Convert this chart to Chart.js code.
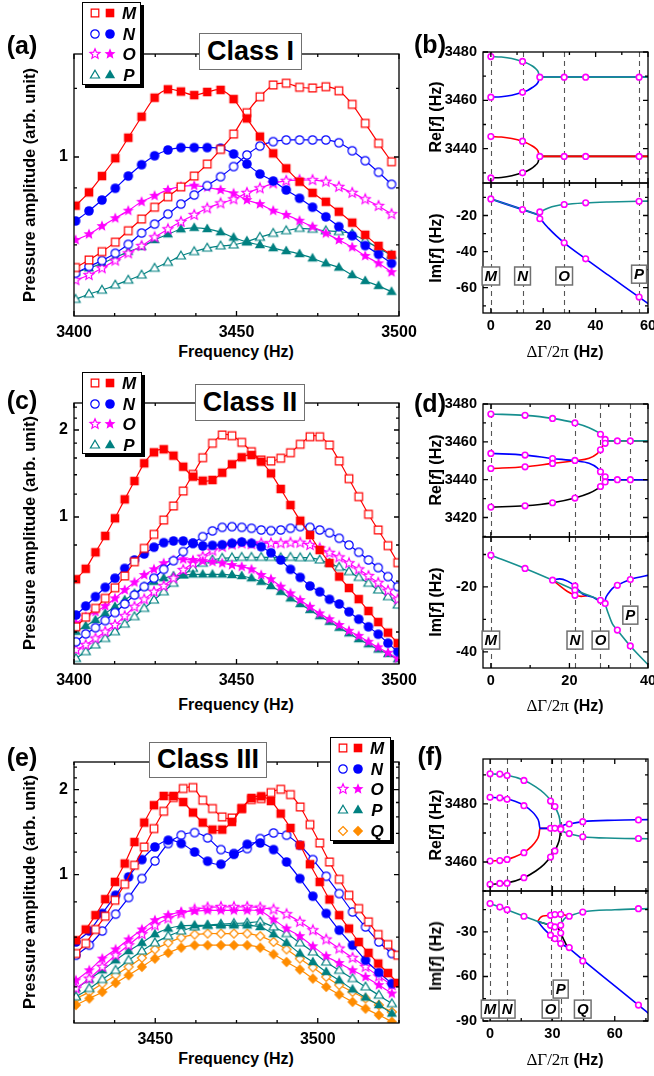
<!DOCTYPE html>
<html><head><meta charset="utf-8">
<script src="https://cdn.jsdelivr.net/npm/chart.js@4.4.1/dist/chart.umd.min.js"></script>
<style>
html,body{margin:0;padding:0;background:#fff}
#fig{position:relative;width:654px;height:1076px;overflow:hidden;background:#fff;font-family:"Liberation Sans",Arial,sans-serif;font-weight:bold;color:#000}
#fig canvas{position:absolute}
.t{position:absolute;white-space:nowrap;transform:translate(-50%,-50%);line-height:1}
.box{position:absolute;background:#fff;border:1.5px solid #707070;box-sizing:border-box;text-align:center;font-size:27px}
.leg{position:absolute;background:#fff;border:1px solid #000;box-shadow:3px 3px 0 #000;box-sizing:border-box}
.leg i{position:absolute;font-size:17px;transform:translate(-50%,-50%);line-height:1}
</style></head><body><div id="fig"></div>
<script>
// ---- (a) Class I spectra, 4 Hz steps
const freqA = [3400.5, 3404.6, 3408.6, 3412.7, 3416.7, 3420.8, 3424.8, 3428.9, 3432.9, 3437.0, 3441.0, 3445.1, 3449.1, 3453.2, 3457.2, 3461.3, 3465.3, 3469.4, 3473.4, 3477.5, 3481.5, 3485.6, 3489.6, 3493.7, 3497.7];
const aMf = [0.788,0.841,0.911,0.994,1.099,1.218,1.337,1.393,1.378,1.354,1.375,1.389,1.328,1.208,1.105,1.018,0.946,0.886,0.839,0.803,0.765,0.725,0.683,0.647,0.619];
const aMo = [0.582,0.604,0.629,0.659,0.697,0.738,0.782,0.823,0.864,0.911,0.966,1.038,1.119,1.242,1.343,1.423,1.435,1.407,1.402,1.411,1.383,1.294,1.179,1.069,0.977];
const aNf = [0.731,0.768,0.810,0.858,0.911,0.963,1.006,1.035,1.047,1.047,1.047,1.044,1.015,0.966,0.920,0.889,0.851,0.817,0.782,0.746,0.711,0.680,0.648,0.621,0.594];
const aNo = [0.566,0.585,0.602,0.624,0.652,0.689,0.720,0.756,0.794,0.830,0.869,0.908,0.954,1.010,1.055,1.078,1.087,1.087,1.087,1.087,1.072,1.031,0.982,0.928,0.875];
const aOf = [0.666,0.685,0.713,0.741,0.769,0.803,0.827,0.851,0.865,0.869,0.862,0.851,0.837,0.810,0.794,0.769,0.753,0.732,0.711,0.688,0.666,0.643,0.616,0.594,0.569];
const aOo = [0.547,0.561,0.580,0.602,0.624,0.647,0.675,0.702,0.728,0.753,0.778,0.797,0.813,0.839,0.858,0.879,0.890,0.893,0.893,0.886,0.864,0.839,0.813,0.787,0.756];
const aPf = [0.568,0.580,0.594,0.611,0.629,0.644,0.666,0.685,0.702,0.707,0.703,0.692,0.674,0.659,0.650,0.640,0.631,0.622,0.609,0.594,0.582,0.561,0.545,0.532,0.517];
const aPo = [0.498,0.511,0.521,0.534,0.547,0.561,0.580,0.597,0.616,0.629,0.640,0.647,0.650,0.661,0.675,0.688,0.697,0.705,0.702,0.697,0.694,0.686,0.664,0.640,0.618];

// ---- (c) Class II spectra, 3 Hz steps
const freqC = [3400.6,3403.6,3406.6,3409.6,3412.6,3415.6,3418.6,3421.6,3424.6,3427.6,3430.6,3433.6,3436.6,3439.6,3442.6,3445.6,3448.6,3451.6,3454.6,3457.6,3460.6,3463.6,3466.6,3469.6,3472.6,3475.6,3478.6,3481.6,3484.6,3487.6,3490.6,3493.6,3496.6,3499.6];
const cMf = [0.609,0.662,0.755,0.860,0.990,1.151,1.332,1.534,1.674,1.715,1.630,1.493,1.379,1.335,1.343,1.423,1.522,1.609,1.638,1.554,1.416,1.250,1.100,0.971,0.866,0.769,0.693,0.622,0.568,0.520,0.473,0.433,0.398,0.366];
const cMo = [0.417,0.450,0.483,0.523,0.569,0.625,0.700,0.779,0.871,0.976,1.092,1.230,1.405,1.604,1.799,1.922,1.911,1.813,1.683,1.575,1.562,1.597,1.669,1.785,1.896,1.896,1.775,1.562,1.357,1.176,1.022,0.902,0.796,0.695];
const cNf = [0.458,0.492,0.530,0.571,0.614,0.664,0.710,0.745,0.786,0.815,0.826,0.826,0.811,0.794,0.798,0.802,0.811,0.819,0.811,0.789,0.752,0.710,0.659,0.618,0.577,0.551,0.519,0.500,0.470,0.443,0.417,0.393,0.366,0.342];
const cNo = [0.370,0.394,0.414,0.438,0.467,0.500,0.537,0.574,0.614,0.659,0.706,0.759,0.811,0.855,0.895,0.921,0.926,0.921,0.914,0.902,0.897,0.902,0.914,0.926,0.921,0.902,0.882,0.844,0.800,0.755,0.710,0.668,0.622,0.574];
const cOf = [0.429,0.452,0.470,0.492,0.523,0.559,0.594,0.630,0.659,0.692,0.710,0.714,0.710,0.704,0.700,0.692,0.682,0.673,0.659,0.630,0.609,0.574,0.544,0.516,0.489,0.464,0.443,0.423,0.404,0.388,0.370,0.354,0.339,0.324];
const cOo = [0.347,0.361,0.380,0.401,0.423,0.454,0.489,0.519,0.551,0.577,0.614,0.656,0.692,0.729,0.765,0.789,0.804,0.811,0.806,0.811,0.811,0.811,0.815,0.815,0.800,0.779,0.752,0.725,0.692,0.659,0.625,0.592,0.556,0.519];
const cPf = [0.401,0.420,0.440,0.464,0.489,0.516,0.544,0.574,0.597,0.614,0.625,0.630,0.633,0.633,0.633,0.633,0.630,0.625,0.614,0.597,0.577,0.551,0.523,0.500,0.477,0.454,0.434,0.414,0.396,0.378,0.363,0.348,0.336,0.322];
const cPo = [0.324,0.342,0.361,0.380,0.401,0.426,0.452,0.483,0.516,0.551,0.590,0.630,0.664,0.692,0.710,0.720,0.723,0.725,0.725,0.725,0.725,0.723,0.725,0.723,0.723,0.710,0.692,0.670,0.647,0.618,0.590,0.559,0.530,0.496];

// ---- (e) Class III spectra: M on a 3 Hz grid, the rest on a 4 Hz grid
const freqE3 = [3425.6,3428.6,3431.6,3434.6,3437.6,3440.6,3443.6,3446.6,3449.6,3452.6,3455.6,3458.6,3461.6,3464.6,3467.6,3470.6,3473.6,3476.6,3479.6,3482.6,3485.6,3488.6,3491.6,3494.6,3497.6,3500.6,3503.6,3506.6,3509.6,3512.6,3515.6,3518.6,3521.6,3524.6];
const freqE4 = [3425.6,3429.7,3433.7,3437.8,3441.8,3445.9,3449.9,3454.0,3458.0,3462.1,3466.1,3470.2,3474.2,3478.3,3482.3,3486.4,3490.4,3494.5,3498.5,3502.6,3506.6,3510.7,3514.7,3518.8,3522.8];
const eMf = [0.585,0.639,0.718,0.818,0.942,1.094,1.304,1.528,1.760,1.898,1.898,1.807,1.658,1.528,1.443,1.443,1.536,1.713,1.867,1.893,1.822,1.644,1.462,1.270,1.088,0.942,0.816,0.718,0.644,0.577,0.528,0.484,0.448,0.413];
const eMo = [0.525,0.570,0.639,0.712,0.811,0.924,1.079,1.252,1.455,1.675,1.874,2.017,2.033,1.833,1.713,1.600,1.586,1.713,1.844,1.858,1.951,2.005,1.920,1.735,1.503,1.294,1.108,0.962,0.845,0.758,0.680,0.613,0.565,0.518];
const eNf = [0.577,0.631,0.728,0.845,0.981,1.130,1.252,1.323,1.288,1.202,1.115,1.088,1.180,1.280,1.294,1.226,1.108,0.968,0.838,0.728,0.635,0.562,0.497,0.450,0.411];
const eNo = [0.518,0.562,0.631,0.724,0.829,0.968,1.117,1.288,1.378,1.408,1.348,1.226,1.187,1.236,1.341,1.404,1.378,1.270,1.130,0.986,0.856,0.737,0.652,0.577,0.525];
const eOf = [0.422,0.458,0.504,0.543,0.589,0.639,0.689,0.718,0.737,0.743,0.747,0.747,0.747,0.747,0.743,0.693,0.644,0.605,0.557,0.514,0.486,0.458,0.434,0.406,0.379];
const eOo = [0.395,0.428,0.471,0.518,0.562,0.615,0.661,0.699,0.728,0.752,0.764,0.768,0.768,0.768,0.764,0.752,0.724,0.680,0.635,0.589,0.547,0.507,0.471,0.436,0.406];
const ePf = [0.395,0.425,0.458,0.497,0.536,0.573,0.615,0.644,0.658,0.661,0.661,0.661,0.661,0.661,0.652,0.615,0.573,0.525,0.490,0.452,0.422,0.392,0.367,0.345,0.322];
const ePo = [0.369,0.395,0.425,0.458,0.497,0.536,0.573,0.605,0.631,0.652,0.661,0.667,0.671,0.674,0.680,0.652,0.618,0.573,0.532,0.490,0.458,0.428,0.400,0.374,0.349];
const eQf = [0.345,0.364,0.384,0.413,0.440,0.471,0.504,0.528,0.551,0.562,0.562,0.562,0.562,0.562,0.551,0.522,0.490,0.461,0.428,0.400,0.376,0.354,0.335,0.318,0.301];
const eQo = [0.364,0.384,0.411,0.440,0.471,0.507,0.543,0.573,0.598,0.613,0.618,0.618,0.618,0.618,0.605,0.577,0.543,0.504,0.469,0.434,0.406,0.384,0.364,0.345,0.326];

// ---- (b) eigenfrequencies vs loss contrast
const bReX = [0, 4, 8, 12, 14, 16, 17, 18, 18.7, 30, 45, 61];
const bReTeal = [3478.1, 3477.9, 3477.3, 3476.1, 3475.3, 3474.1, 3473.2, 3472.0, 3469.6, 3469.6, 3469.6, 3469.6];
const bReBlue = [3461.3, 3461.5, 3462.1, 3463.3, 3464.1, 3465.4, 3466.2, 3467.4, 3469.6, 3469.6, 3469.6, 3469.6];
const bReRed = [3445.0, 3444.8, 3444.2, 3443.1, 3442.2, 3441.0, 3440.2, 3439.0, 3436.8, 3436.8, 3436.8, 3436.8];
const bReBlack = [3427.9, 3428.1, 3428.8, 3430.0, 3430.9, 3432.2, 3433.1, 3434.4, 3436.8, 3436.8, 3436.8, 3436.8];
const bDotX = [0, 0, 0, 0, 12.1, 12.1, 12.1, 12.1, 18.7, 18.7, 28, 28, 36.2, 36.2, 56.6, 56.6];
const bDotRe = [3478.1, 3461.3, 3445.0, 3427.9, 3476.1, 3463.3, 3443.1, 3430.0, 3469.6, 3436.8, 3469.6, 3436.8, 3469.6, 3436.8, 3469.6, 3436.8];
const bImX0 = [0, 12.1, 18.7];
const bIm0 = [-10.8, -16.7, -19.9];
const bImX1 = [18.7, 19, 20, 22, 25, 28, 36.2, 45, 56.6, 61];
const bImTeal = [-19.9, -18.5, -17.2, -15.8, -14.6, -13.9, -13.0, -12.5, -12.1, -12.0];
const bImBlue = [-19.9, -21.5, -23.7, -27.0, -31.3, -35.1, -44.0, -53.2, -65.2, -69.8];
const bDotImX = [0, 12.1, 18.7, 18.7, 28, 28, 36.2, 36.2, 56.6, 56.6];
const bDotIm = [-10.8, -16.7, -18.0, -21.8, -13.9, -35.1, -13.0, -44.0, -12.1, -65.2];
const bMarks = [0, 12.1, 28, 56.6];
const bTags = ['M', 'N', 'O', 'P'];
const bTagY = [-53.5, -53.5, -53.5, -52.5];

// ---- (d)
const dReX = [0, 8.7, 15.7, 21.4, 25, 27, 27.9, 28.3, 28.8, 32.2, 35.5, 41];
const dReTeal = [3474.7, 3474.0, 3472.4, 3470.0, 3467.5, 3465.4, 3464.0, 3463.1, 3460.5, 3460.5, 3460.5, 3460.5];
const dReBlack = [3425.5, 3426.2, 3427.8, 3430.3, 3432.8, 3435.0, 3436.4, 3437.3, 3440.0, 3440.0, 3440.0, 3440.0];
const dReRed = [3445.9, 3446.8, 3448.6, 3450.0, 3451.3, 3453.6, 3455.8, 3456.9, 3460.5, 3460.5, 3460.5, 3460.5];
const dReBlue = [3453.9, 3453.0, 3451.2, 3450.0, 3448.7, 3446.4, 3444.2, 3443.1, 3440.0, 3440.0, 3440.0, 3440.0];
const dDotX = [0, 0, 0, 0, 8.7, 8.7, 8.7, 8.7, 15.7, 15.7, 15.7, 15.7, 21.4, 21.4, 21.4, 27.9, 27.9, 27.9, 27.9, 29.1, 29.1, 29.1, 29.1, 32.2, 32.2, 35.5, 35.5];
const dDotRe = [3474.7, 3453.9, 3445.9, 3425.5, 3474.0, 3453.0, 3446.8, 3426.2, 3472.4, 3451.2, 3448.6, 3427.8, 3470.0, 3450.2, 3430.3, 3464.0, 3455.8, 3444.2, 3436.4, 3461.3, 3459.2, 3441.5, 3438.8, 3460.5, 3440.0, 3460.5, 3440.0];
const dImX = [0, 8.7, 15.7, 21.4, 27.9, 28.9, 29.9, 30.9, 32.2, 35.5, 41];
const dImTeal = [-10.2, -14.3, -17.9, -21.0, -24.1, -24.9, -28.2, -31.3, -33.3, -38.2, -45.2];
const dImBlueX = [15.7, 17.5, 19.5, 21.4, 22.5, 23.5, 26, 28.9, 29.3, 29.9, 30.9, 32.2, 35.5, 41];
const dImBlue = [-17.9, -17.5, -18.2, -19.7, -21.2, -22.3, -23.2, -24.9, -23.2, -22.0, -20.5, -19.5, -17.7, -16.2];
const dImRedX = [15.7, 17.5, 19.5, 21.4, 23, 24.5];
const dImRed = [-17.9, -19.6, -21.4, -22.5, -22.9, -22.7];
const dDotImX = [0, 8.7, 15.7, 21.4, 21.4, 21.4, 27.9, 29.1, 32.2, 32.2, 35.5, 35.5];
const dDotIm = [-10.2, -14.3, -17.9, -19.7, -21.0, -22.6, -24.1, -25.1, -19.5, -33.3, -17.7, -38.2];
const dMarks = [0, 21.4, 27.9, 35.5];
const dTags = ['M', 'N', 'O', 'P'];
const dTagY = [-36.4, -36.4, -36.4, -28.7];

// ---- (f)
const fReTealX = [0, 8.2, 16.3, 22, 26, 29, 31, 32.5, 33.5, 34, 35, 38.1, 44.6, 60, 77];
const fReTeal = [3490.4, 3489.9, 3488.2, 3485.9, 3483.7, 3481.4, 3479.3, 3477.1, 3474.8, 3471.6, 3470.6, 3469.8, 3468.7, 3468.2, 3468.0];
const fReBlackX = [0, 8.2, 16.3, 22, 26, 29, 31, 32.5, 33.5, 34];
const fReBlack = [3452.3, 3452.8, 3454.6, 3456.9, 3459.2, 3461.6, 3463.7, 3465.9, 3468.3, 3471.6];
const fReBlueX = [0, 4.7, 8.2, 12, 16.3, 20, 22, 23.5, 24, 29.1, 34, 35, 38.1, 44.6, 60, 77];
const fReBlue = [3482.3, 3482.1, 3481.7, 3480.9, 3479.5, 3477.5, 3475.9, 3473.8, 3471.6, 3471.6, 3471.6, 3472.5, 3473.1, 3473.9, 3474.4, 3474.6];
const fReRedX = [0, 8.2, 12, 16.3, 20, 22, 23.5, 24, 29.1, 34];
const fReRed = [3460.3, 3460.9, 3461.8, 3463.3, 3465.4, 3467.1, 3469.3, 3471.6, 3471.6, 3471.6];
const fDotX = [0, 0, 0, 0, 4.7, 4.7, 4.7, 4.7, 8.2, 8.2, 8.2, 8.2, 16.3, 16.3, 16.3, 16.3, 29.1, 29.1, 29.1, 31.2, 31.2, 31.2, 34, 34, 38.1, 38.1, 44.6, 44.6, 71.4, 71.4];
const fDotRe = [3490.4, 3482.3, 3460.3, 3452.3, 3490.3, 3482.1, 3460.5, 3452.6, 3489.8, 3481.6, 3460.9, 3452.7, 3488.1, 3479.4, 3463.2, 3454.6, 3481.0, 3471.6, 3461.7, 3479.1, 3471.6, 3463.8, 3471.8, 3471.3, 3473.1, 3469.8, 3473.9, 3468.7, 3474.5, 3468.1];
const fImTealX = [0, 4.7, 8.2, 16.3, 23, 29.1, 31.2, 33, 34, 35, 36.5, 38.1, 44.6, 60, 77];
const fImTeal = [-10.9, -13.2, -15.0, -19.4, -22.9, -25.5, -26.6, -26.6, -25.5, -22.5, -20.2, -19.3, -16.6, -15.0, -14.2];
const fImRedX = [23, 24, 25.5, 29.1, 31.2, 34, 36.5, 38.1];
const fImRed = [-22.9, -20.6, -19.3, -18.8, -18.3, -18.1, -18.7, -19.3];
const fImBlueX = [23, 24.5, 26.5, 29.1, 31.2, 34, 38.1, 44.6, 60, 71.4, 77];
const fImBlue = [-22.9, -25.6, -28.8, -32.2, -34.5, -37.8, -41.2, -48.8, -66.3, -79.3, -85.7];
const fImBlackX = [23, 29.1, 31.2, 33, 34, 35.5, 37, 38.1];
const fImBlack = [-22.9, -25.5, -26.6, -28.0, -30.7, -35.3, -39.5, -41.2];
const fDotImX = [0, 4.7, 8.2, 16.3, 29.1, 29.1, 29.1, 31.2, 31.2, 31.2, 34, 34, 34, 34, 38.1, 38.1, 44.6, 44.6, 71.4, 71.4];
const fDotIm = [-10.9, -13.2, -15.0, -19.4, -18.8, -25.5, -32.2, -18.3, -26.6, -34.5, -18.1, -25.5, -30.7, -37.8, -19.4, -40.5, -16.6, -49.5, -14.3, -79.3];
const fMarks = [0, 8.2, 29.1, 34, 44.6];
const fTags = ['M', 'N', 'O', 'P', 'Q'];
const fTagY = [-82, -82, -82, -68.5, -82];

// ---- axes
const freqTicksA = [3400, 3412.5, 3425, 3437.5, 3450, 3462.5, 3475, 3487.5, 3500];
const freqTicksE = [3425, 3437.5, 3450, 3462.5, 3475, 3487.5, 3500, 3512.5, 3525];
const ampTicks = [0.4, 0.6, 0.8, 1, 1.2, 1.4, 1.6, 1.8, 2, 2.2, 2.4];

const xA = {min: 3400, max: 3500, ticks: freqTicksA, labels: [3400, 3450, 3500], fs: 16};
const xE = {min: 3425, max: 3525, ticks: freqTicksE, labels: [3450, 3500], fs: 16};
const yA = {type: 'logarithmic', min: 0.459, max: 1.656, ticks: [0.65, 0.86, 1, 1.4], labels: [1], fs: 16};
const yC = {type: 'logarithmic', min: 0.31, max: 2.48, ticks: ampTicks, labels: [1, 2], fs: 16};
const yE = {type: 'logarithmic', min: 0.298, max: 2.504, ticks: ampTicks, labels: [1, 2], fs: 16};

const xB = {min: -3, max: 60, ticks: [0, 10, 20, 30, 40, 50, 60], labels: [0, 20, 40, 60], fs: 14.5, pad: 4};
const yBRe = {min: 3425.8, max: 3480, ticks: [3430, 3440, 3450, 3460, 3470, 3480], labels: [3440, 3460, 3480], fs: 14.5};
const yBIm = {min: -74, max: -2, ticks: [-70, -60, -50, -40, -30, -20, -10], labels: [-20, -40, -60], fs: 14.5};
const xD = {min: -2, max: 40, ticks: [0, 10, 20, 30, 40], labels: [0, 20, 40], fs: 14.5, pad: 4};
const yDRe = {min: 3409.7, max: 3480, ticks: [3410, 3420, 3430, 3440, 3450, 3460, 3470, 3480], labels: [3420, 3440, 3460, 3480], fs: 14.5};
const yDIm = {min: -45, max: -4.6, ticks: [-40, -30, -20, -10], labels: [-20, -40], fs: 14.5};
const xF = {min: -3.4, max: 76, ticks: [0, 15, 30, 45, 60, 75], labels: [0, 30, 60], fs: 14.5, pad: 4};
const yFRe = {min: 3450, max: 3495.5, ticks: [3450, 3460, 3470, 3480, 3490], labels: [3460, 3480], fs: 14.5};
const yFIm = {min: -90, max: -2.4, ticks: [-90, -75, -60, -45, -30, -15], labels: [-30, -60, -90], fs: 14.5};

const fig = document.getElementById('fig');
Chart.defaults.font.family = '"Liberation Sans", Arial, sans-serif';
Chart.defaults.color = '#000';

const COL = {M: '#ff0000', N: '#0000ff', O: '#ff00ff', P: '#008080', Q: '#ff8c00'};
const SHAPE = {M: 'square', N: 'circle', O: 'star', P: 'triangle', Q: 'diamond'};
const TEAL = '#178f8f';

// little marker bitmaps (Chart.js has no filled star)
function mk(shape, color, filled) {
    const S = 14, c = document.createElement('canvas');
    c.width = c.height = S;
    const g = c.getContext('2d');
    g.translate(S / 2, S / 2);
    g.fillStyle = filled ? color : '#fff';
    g.strokeStyle = color;
    g.lineWidth = 1.2;
    g.beginPath();
    if (shape === 'square') { const h = filled ? 4.3 : 3.8; g.rect(-h, -h, 2 * h, 2 * h); }
    else if (shape === 'circle') { g.arc(0, 0, filled ? 4.8 : 4.2, 0, Math.PI * 2); }
    else if (shape === 'triangle') { const r = filled ? 5.4 : 4.8; g.moveTo(0, -r); g.lineTo(r * 0.95, r * 0.62); g.lineTo(-r * 0.95, r * 0.62); g.closePath(); }
    else if (shape === 'diamond') { const r = filled ? 5.2 : 4.5; g.moveTo(0, -r); g.lineTo(r, 0); g.lineTo(0, r); g.lineTo(-r, 0); g.closePath(); }
    else { const R = filled ? 5.8 : 5.2, r = R * 0.45;
        for (let k = 0; k < 10; k++) { const a = -Math.PI / 2 + k * Math.PI / 5, rr = k % 2 ? r : R; g.lineTo(rr * Math.cos(a), rr * Math.sin(a)); }
        g.closePath(); }
    g.fill();
    if (!filled) g.stroke();
    return c;
}

const pts = (xs, ys) => xs.map((x, i) => ({x, y: ys[i]}));
function series(xs, ys, key, filled) {
    return {data: pts(xs, ys), borderColor: COL[key], borderWidth: 1.2, tension: 0.3, showLine: true,
        pointStyle: mk(SHAPE[key], COL[key], filled), pointRadius: 5, fill: false};
}
function curve(xs, ys, color, w) {
    return {data: pts(xs, ys), borderColor: color, borderWidth: w || 1.6, pointRadius: 0, cubicInterpolationMode: 'monotone', fill: false};
}
function dots(xs, ys) {
    return {data: pts(xs, ys), showLine: false, pointStyle: 'circle', pointRadius: 2.8, borderWidth: 1.6,
        borderColor: '#ff00ff', backgroundColor: '#fff'};
}

const near = (v, arr) => arr.some(a => Math.abs(a - v) < 1e-6);

// frame, inward Origin-style ticks, dashed markers and boxed letters
const framePlugin = {
    id: 'frame',
    beforeDatasetsDraw(ch, args, o) {
        if (!o.marks) return;
        const c = ch.ctx, r = ch.chartArea, x = ch.scales.x;
        c.save();
        c.setLineDash([5, 4]);
        c.strokeStyle = '#555';
        c.lineWidth = 1.1;
        for (const v of o.marks) {
            const p = Math.round(x.getPixelForValue(v)) + 0.5;
            c.beginPath(); c.moveTo(p, r.top); c.lineTo(p, r.bottom); c.stroke();
        }
        c.restore();
    },
    afterDatasetsDraw(ch, args, o) {
        const c = ch.ctx, r = ch.chartArea, x = ch.scales.x, y = ch.scales.y;
        c.save();
        c.strokeStyle = '#000';
        c.lineWidth = 1.3;
        c.strokeRect(r.left, r.top, r.right - r.left, r.bottom - r.top);
        c.beginPath();
        for (const t of x.ticks) {
            const p = x.getPixelForValue(t.value), L = near(t.value, o.xl) ? 5 : 3;
            c.moveTo(p, r.bottom); c.lineTo(p, r.bottom - L);
            c.moveTo(p, r.top); c.lineTo(p, r.top + L);
        }
        for (const t of y.ticks) {
            const p = y.getPixelForValue(t.value), L = near(t.value, o.yl) ? 5 : 3;
            c.moveTo(r.left, p); c.lineTo(r.left + L, p);
            c.moveTo(r.right, p); c.lineTo(r.right - L, p);
        }
        c.stroke();
        if (o.tags) {
            c.font = 'italic bold 15px "Liberation Sans", Arial, sans-serif';
            c.textAlign = 'center';
            c.textBaseline = 'middle';
            o.tags.forEach((s, i) => {
                const px = x.getPixelForValue(o.marks[i]), py = y.getPixelForValue(o.tagY[i]);
                const w = c.measureText(s).width + 5, h = 18;
                c.fillStyle = '#fff';
                c.fillRect(px - w / 2, py - h / 2, w, h);
                c.strokeStyle = '#707070';
                c.lineWidth = 1.5;
                c.strokeRect(px - w / 2, py - h / 2, w, h);
                c.fillStyle = '#000';
                c.fillText(s, px, py + 1);
            });
        }
        c.restore();
    }
};

function axis(s, horiz, size, hide) {
    return {
        type: s.type || 'linear', min: s.min, max: s.max, bounds: 'data', offset: false,
        grid: {display: false, drawTicks: false}, border: {display: false},
        ticks: {autoSkip: false, maxRotation: 0, minRotation: 0, padding: horiz ? (s.pad || 7) : 6,
            font: {size: s.fs, weight: 'bold'}, color: '#000',
            callback: v => (!hide && near(v, s.labels)) ? String(v) : ''},
        afterBuildTicks: sc => { sc.ticks = s.ticks.map(v => ({value: v})); },
        afterFit: sc => {
            if (horiz) sc.height = size; else sc.width = size;
            sc.paddingLeft = sc.paddingRight = sc.paddingTop = sc.paddingBottom = 0;
        }
    };
}

// box = plot area [x0, y0, x1, y1], pad = [left, right, top, bottom]
function plot(box, pad, xs, ys, sets, opt) {
    const W = box[2] - box[0] + pad[0] + pad[1], H = box[3] - box[1] + pad[2] + pad[3];
    const cv = document.createElement('canvas');
    cv.width = W; cv.height = H;
    Object.assign(cv.style, {left: (box[0] - pad[0]) + 'px', top: (box[1] - pad[2]) + 'px', width: W + 'px', height: H + 'px'});
    fig.appendChild(cv);
    return new Chart(cv, {
        type: 'line',
        data: {datasets: sets.map((d, i) => Object.assign({order: -i}, d))},
        options: {
            responsive: false, animation: false, devicePixelRatio: 1, events: [],
            layout: {padding: {left: 0, right: pad[1], top: pad[2], bottom: 0}, autoPadding: false},
            plugins: {legend: {display: false}, tooltip: {enabled: false},
                frame: Object.assign({xl: xs.labels, yl: ys.labels}, opt || {})},
            scales: {x: axis(xs, true, pad[3], opt && opt.noX), y: axis(ys, false, pad[0])}
        },
        plugins: [framePlugin]
    });
}

const PL = [40, 24, 12, 26];
plot([74, 54, 399, 316], PL, xA, yA, [
    series(freqA, aPo, 'P', false), series(freqA, aPf, 'P', true),
    series(freqA, aOo, 'O', false), series(freqA, aOf, 'O', true),
    series(freqA, aNo, 'N', false), series(freqA, aNf, 'N', true),
    series(freqA, aMo, 'M', false), series(freqA, aMf, 'M', true)]);
plot([74, 403, 399, 664], PL, xA, yC, [
    series(freqC, cPo, 'P', false), series(freqC, cPf, 'P', true),
    series(freqC, cOo, 'O', false), series(freqC, cOf, 'O', true),
    series(freqC, cNo, 'N', false), series(freqC, cNf, 'N', true),
    series(freqC, cMo, 'M', false), series(freqC, cMf, 'M', true)]);
plot([74, 762, 399, 1023], PL, xE, yE, [
    series(freqE4, eQo, 'Q', false), series(freqE4, eQf, 'Q', true),
    series(freqE4, ePo, 'P', false), series(freqE4, ePf, 'P', true),
    series(freqE4, eOo, 'O', false), series(freqE4, eOf, 'O', true),
    series(freqE4, eNo, 'N', false), series(freqE4, eNf, 'N', true),
    series(freqE3, eMo, 'M', false), series(freqE3, eMf, 'M', true)]);

const PRe = [46, 6, 10, 2], PIm = [46, 6, 2, 26];
plot([483, 52, 648, 183], PRe, xB, yBRe, [
    curve(bReX, bReBlack, '#000'), curve(bReX, bReRed, '#ff0000'),
    curve(bReX, bReBlue, '#0000ff'), curve(bReX, bReTeal, TEAL), dots(bDotX, bDotRe)],
    {marks: bMarks, noX: true});
plot([483, 183, 648, 313], PIm, xB, yBIm, [
    curve(bImX0, bIm0, '#0000ff', 2), curve(bImX0, bIm0, TEAL, 1.2),
    curve(bImX1, bImBlue, '#0000ff'), curve(bImX1, bImTeal, TEAL), dots(bDotImX, bDotIm)],
    {marks: bMarks, tags: bTags, tagY: bTagY});
plot([483, 404, 648, 537], PRe, xD, yDRe, [
    curve(dReX, dReBlack, '#000'), curve(dReX, dReRed, '#ff0000'),
    curve(dReX, dReBlue, '#0000ff'), curve(dReX, dReTeal, TEAL), dots(dDotX, dDotRe)],
    {marks: dMarks, noX: true});
plot([483, 537, 648, 668], PIm, xD, yDIm, [
    curve(dImRedX, dImRed, '#ff0000'), curve(dImBlueX, dImBlue, '#0000ff'),
    curve(dImX, dImTeal, TEAL), dots(dDotImX, dDotIm)],
    {marks: dMarks, tags: dTags, tagY: dTagY});
plot([483, 759, 648, 891], PRe, xF, yFRe, [
    curve(fReRedX, fReRed, '#ff0000'), curve(fReBlackX, fReBlack, '#000'),
    curve(fReBlueX, fReBlue, '#0000ff'), curve(fReTealX, fReTeal, TEAL), dots(fDotX, fDotRe)],
    {marks: fMarks, noX: true});
plot([483, 891, 648, 1021], PIm, xF, yFIm, [
    curve(fImBlackX, fImBlack, '#000'), curve(fImBlueX, fImBlue, '#0000ff'),
    curve(fImRedX, fImRed, '#ff0000'), curve(fImTealX, fImTeal, TEAL), dots(fDotImX, fDotIm)],
    {marks: fMarks, tags: fTags, tagY: fTagY});

// ---- text
function txt(html, x, y, size, rot) {
    const d = document.createElement('div');
    d.className = 't';
    d.innerHTML = html;
    d.style.left = x + 'px';
    d.style.top = y + 'px';
    d.style.fontSize = size + 'px';
    if (rot) d.style.transform = 'translate(-50%,-50%) rotate(-90deg)';
    fig.appendChild(d);
}
function classBox(label, x, y, w, h) {
    const d = document.createElement('div');
    d.className = 'box';
    d.textContent = label;
    Object.assign(d.style, {left: x + 'px', top: y + 'px', width: w + 'px', height: h + 'px', lineHeight: (h - 3) + 'px'});
    fig.appendChild(d);
}
function legend(x, y, w, h, keys, dy) {
    const d = document.createElement('div');
    d.className = 'leg';
    Object.assign(d.style, {left: x + 'px', top: y + 'px', width: w + 'px', height: h + 'px'});
    keys.forEach((k, i) => {
        const cy = 10 + i * dy;
        [[false, 12], [true, 27]].forEach(([f, cx]) => {
            const m = mk(SHAPE[k], COL[k], f);
            Object.assign(m.style, {left: (cx - m.width / 2) + 'px', top: (cy - m.height / 2) + 'px'});
            d.appendChild(m);
        });
        const l = document.createElement('i');
        l.textContent = k;
        l.style.left = '46px';
        l.style.top = cy + 'px';
        d.appendChild(l);
    });
    fig.appendChild(d);
}

classBox('Class I', 199, 33, 103, 37);
classBox('Class II', 195, 384, 110, 37);
classBox('Class III', 149, 742, 118, 36);
legend(82, 2, 59, 83, ['M', 'N', 'O', 'P'], 20.5);
legend(82, 372, 60, 82, ['M', 'N', 'O', 'P'], 20.5);
legend(330, 737, 61, 104, ['M', 'N', 'O', 'P', 'Q'], 20.7);

[['(a)', 22, 45], ['(b)', 430, 44], ['(c)', 22, 400], ['(d)', 430, 403], ['(e)', 22, 757], ['(f)', 430, 756]]
    .forEach(([s, x, y]) => txt(s, x, y, 25));

const dG = '<span style="font-family:\'Liberation Serif\',serif;font-weight:normal;font-size:17px">&Delta;&Gamma;/2&pi;</span> (Hz)';
[185, 533, 892].forEach(y => txt('Pressure amplitude (arb. unit)', 29, y, 16.5, true));
[352, 705, 1059].forEach(y => txt('Frequency (Hz)', 236, y, 16));
[351, 705, 1059].forEach(y => txt(dG, 565, y, 16));
[117, 470, 825].forEach(y => txt('Re[<i>f</i>] (Hz)', 436, y, 16, true));
[248, 602, 956].forEach(y => txt('Im[<i>f</i>] (Hz)', 436, y, 16, true));
</script></body></html>
